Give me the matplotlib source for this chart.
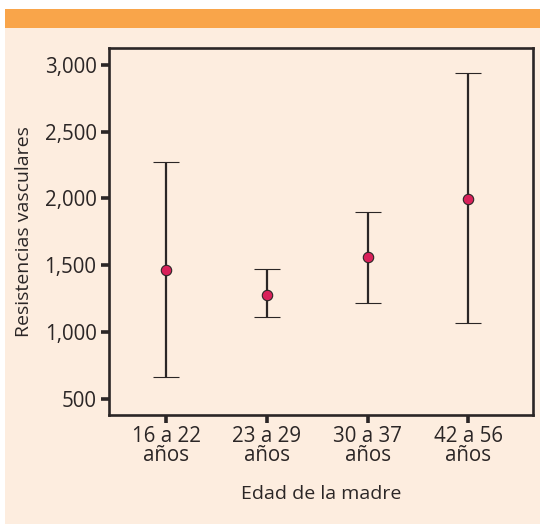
import matplotlib
matplotlib.use("Agg")
import matplotlib.pyplot as plt
from matplotlib.patches import Rectangle

# Resistencias vasculares por grupo de edad materna
grupos = ["16 a 22\naños", "23 a 29\naños", "30 a 37\naños", "42 a 56\naños"]
media = [1465, 1275, 1560, 1995]
limite_sup = [2275, 1475, 1895, 2935]
limite_inf = [665, 1110, 1220, 1070]
yticks = [500, 1000, 1500, 2000, 2500, 3000]

COLOR = {
    "naranja": "#F9A54A",
    "fondo": "#FDEDDF",
    "linea": "#2B2626",
    "punto": "#D9215A",
    "texto": "#2B2626",
}

plt.rcParams["font.family"] = ["Open Sans", "DejaVu Sans"]

fig = plt.figure(figsize=(5.4, 5.25), dpi=100)
fig.patch.set_facecolor("white")

# panel de fondo y banda superior (en un eje auxiliar detrás del gráfico)
bg = fig.add_axes([0, 0, 1, 1], zorder=0)
bg.set_xlim(0, 540)
bg.set_ylim(525, 0)
bg.axis("off")
bg.add_patch(Rectangle((5, 27), 535, 497, facecolor=COLOR["fondo"],
                       edgecolor="none"))
bg.add_patch(Rectangle((5, 9), 535, 19, facecolor=COLOR["naranja"],
                       edgecolor="none"))

ax = fig.add_axes([109 / 540, 1 - 415 / 525, (533 - 109) / 540, (415 - 48) / 525],
                  zorder=2)
ax.set_facecolor(COLOR["fondo"])

x = list(range(1, len(grupos) + 1))
err_inf = [m - b for m, b in zip(media, limite_inf)]
err_sup = [t - m for m, t in zip(media, limite_sup)]
ax.errorbar(x, media, yerr=[err_inf, err_sup], fmt="o",
            color=COLOR["linea"], ecolor=COLOR["linea"], elinewidth=1.6,
            capsize=9.5, capthick=1.6, markersize=7.5,
            markerfacecolor=COLOR["punto"], markeredgecolor=COLOR["linea"],
            markeredgewidth=0.8, zorder=3)

ax.set_xlim(0.43, 4.645)
ax.set_ylim(380, 3125)
ax.set_xticks(x)
ax.set_xticklabels(grupos, linespacing=0.85)
ax.set_yticks(yticks)
ax.set_yticklabels([f"{v:,}" for v in yticks])

for s in ax.spines.values():
    s.set_linewidth(1.9)
    s.set_color(COLOR["linea"])
ax.tick_params(axis="both", direction="out", length=6, width=2.6,
               color=COLOR["linea"], labelsize=14.8, labelcolor=COLOR["texto"])
ax.tick_params(axis="y", pad=3)
ax.tick_params(axis="x", pad=2)

ax.set_ylabel("Resistencias vasculares", fontsize=14, color=COLOR["texto"],
              labelpad=8)
ax.set_xlabel("Edad de la madre", fontsize=14, color=COLOR["texto"],
              labelpad=14)

fig.savefig("out.png", dpi=100, facecolor="white")
